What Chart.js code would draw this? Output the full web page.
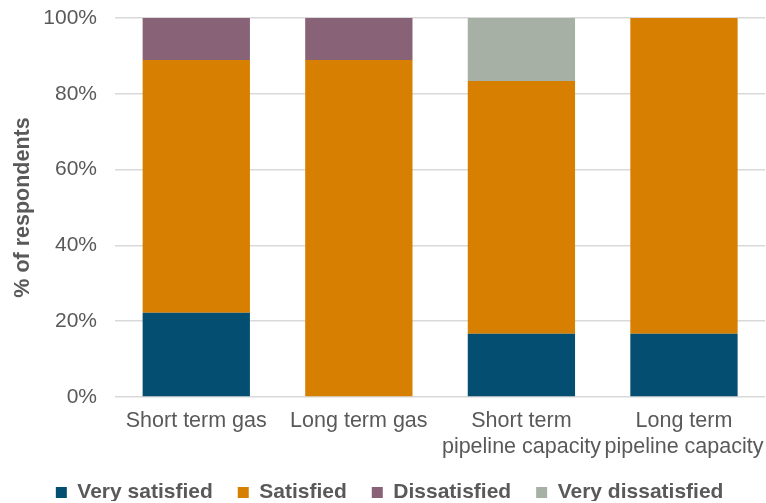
<!DOCTYPE html>
<html>
<head>
<meta charset="utf-8">
<script src="https://cdn.jsdelivr.net/npm/chart.js@4"></script>
<style>
  html, body { margin: 0; padding: 0; background: #fff; }
  #wrap { width: 766px; height: 503px; }
</style>
</head>
<body>
<div id="wrap"><canvas id="myChart" width="766" height="503"></canvas></div>
<script>
const categories = ['Short term gas', 'Long term gas', ['Short term', 'pipeline capacity'], ['Long term', 'pipeline capacity']];
const verySatisfied = [22.2, 0, 16.7, 16.7];
const satisfied = [66.7, 88.9, 66.7, 83.3];
const dissatisfied = [11.1, 11.1, 0, 0];
const veryDissatisfied = [0, 0, 16.7, 0];
const yTicks = [0, 20, 40, 60, 80, 100];

const ctx = document.getElementById('myChart');
const font = 'Liberation Sans, Arial';

// nudge the legend a little so it sits where the original one does
const legendNudge = {
    id: 'legendNudge',
    afterLayout(chart) {
        const lg = chart.legend;
        lg.top -= 2; lg.bottom -= 2;
        lg.left += 7; lg.right += 7;
    }
};

new Chart(ctx, {
    type: 'bar',
    data: {
        labels: categories,
        datasets: [
            { label: 'Very satisfied', data: verySatisfied, backgroundColor: '#044e71' },
            { label: 'Satisfied', data: satisfied, backgroundColor: '#d77f00' },
            { label: 'Dissatisfied', data: dissatisfied, backgroundColor: '#886377' },
            { label: 'Very dissatisfied', data: veryDissatisfied, backgroundColor: '#a6b0a4' }
        ]
    },
    options: {
        responsive: false,
        animation: false,
        layout: { padding: { top: 18, right: 0.75, left: 0, bottom: 0 } },
        datasets: {
            bar: { barPercentage: 0.66, categoryPercentage: 1.0, borderWidth: 0 }
        },
        plugins: {
            legend: {
                position: 'bottom',
                maxHeight: 44,
                labels: {
                    boxWidth: 11,
                    boxHeight: 11,
                    padding: 25,
                    color: '#595959',
                    font: { family: font, size: 21, weight: 'bold' }
                }
            },
            tooltip: { enabled: false }
        },
        scales: {
            x: {
                stacked: true,
                afterFit: (axis) => {
                    axis.height = 62;
                    axis.paddingLeft = 0;
                    axis.paddingRight = 0;
                },
                grid: { display: false },
                border: { display: false },
                ticks: {
                    color: '#595959',
                    padding: 3,
                    maxRotation: 0,
                    font: { family: font, size: 21.5, lineHeight: 1.21 }
                }
            },
            y: {
                stacked: true,
                min: 0,
                max: 100,
                afterBuildTicks: (axis) => { axis.ticks = yTicks.map(v => ({ value: v })); },
                afterFit: (axis) => {
                    axis.width = 115;
                    axis.paddingTop = 0;
                    axis.paddingBottom = 0;
                },
                grid: { color: '#d9d9d9', lineWidth: 1.5, drawTicks: false },
                border: { display: false },
                ticks: {
                    color: '#595959',
                    padding: 18,
                    font: { family: font, size: 21 },
                    callback: (v) => v + '%'
                },
                title: {
                    display: true,
                    text: '% of respondents',
                    color: '#595959',
                    padding: { top: 10, bottom: 0 },
                    font: { family: font, size: 21.5, weight: 'bold' }
                }
            }
        }
    },
    plugins: [legendNudge]
});
</script>
</body>
</html>
